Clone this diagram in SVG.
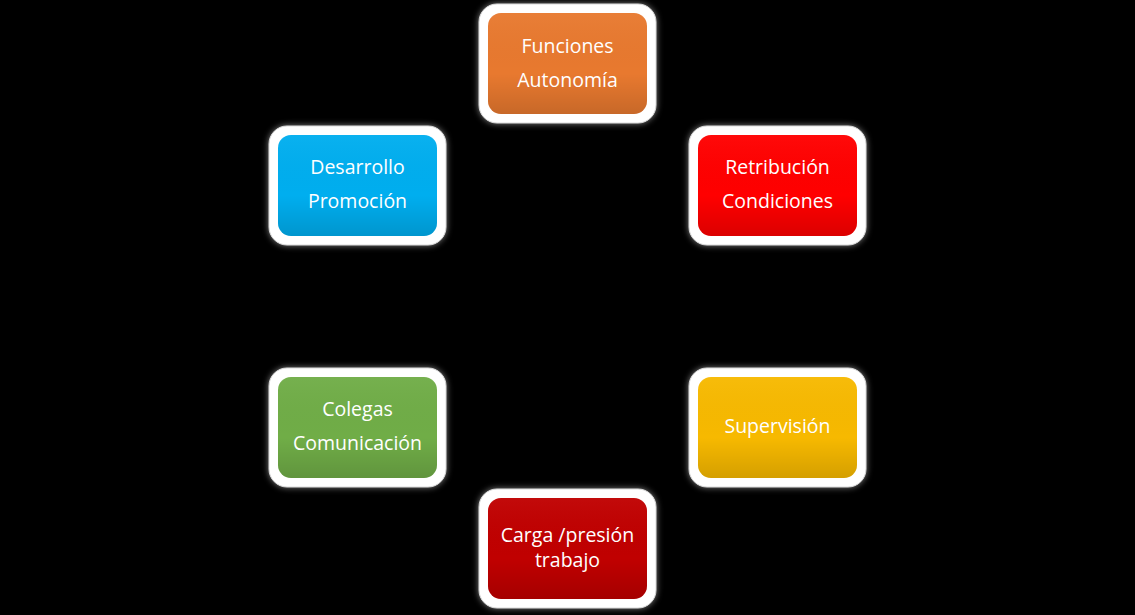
<svg xmlns="http://www.w3.org/2000/svg" width="1135" height="615" viewBox="0 0 1135 615">
<style>
.frame{fill:#ffffff;stroke:#d9d9d9;stroke-width:1;filter:url(#glow)}
.t{font-family:"Open Sans","Liberation Sans",sans-serif;font-size:19.5px;fill:#ffffff;text-anchor:middle}
</style>
<defs>
<filter id="glow" x="-20%" y="-20%" width="140%" height="140%">
<feGaussianBlur in="SourceAlpha" stdDeviation="3" result="b"/>
<feFlood flood-color="#ffffff" flood-opacity="0.5"/>
<feComposite in2="b" operator="in" result="g"/>
<feMerge><feMergeNode in="g"/><feMergeNode in="SourceGraphic"/></feMerge>
</filter>
<linearGradient id="shade" x1="0" y1="0" x2="0" y2="1">
<stop offset="0" stop-color="#fff" stop-opacity="0.04"/>
<stop offset="0.6" stop-color="#000" stop-opacity="0"/>
<stop offset="1" stop-color="#000" stop-opacity="0.14"/>
</linearGradient>
</defs>
<rect width="1135" height="615" fill="#000000"/>
<g id="connectors"></g>
<g id="n-funciones">
<rect class="frame" x="479" y="4" width="177" height="119" rx="18"/>
<rect x="488" y="13" width="159" height="101" rx="13" fill="#E8792F"/>
<rect x="488" y="13" width="159" height="101" rx="13" fill="url(#shade)"/>
<text class="t" x="567.5" y="53">Funciones</text>
<text class="t" x="567.5" y="87">Autonomía</text>
</g>
<g id="n-desarrollo">
<rect class="frame" x="269" y="126" width="177" height="119" rx="18"/>
<rect x="278" y="135" width="159" height="101" rx="13" fill="#00AEEF"/>
<rect x="278" y="135" width="159" height="101" rx="13" fill="url(#shade)"/>
<text class="t" x="357.5" y="174">Desarrollo</text>
<text class="t" x="357.5" y="208">Promoción</text>
</g>
<g id="n-retribucion">
<rect class="frame" x="689" y="126" width="177" height="119" rx="18"/>
<rect x="698" y="135" width="159" height="101" rx="13" fill="#FF0000"/>
<rect x="698" y="135" width="159" height="101" rx="13" fill="url(#shade)"/>
<text class="t" x="777.5" y="174">Retribución</text>
<text class="t" x="777.5" y="208">Condiciones</text>
</g>
<g id="n-colegas">
<rect class="frame" x="269" y="368" width="177" height="119" rx="18"/>
<rect x="278" y="377" width="159" height="101" rx="13" fill="#70AD47"/>
<rect x="278" y="377" width="159" height="101" rx="13" fill="url(#shade)"/>
<text class="t" x="357.5" y="416">Colegas</text>
<text class="t" x="357.5" y="450">Comunicación</text>
</g>
<g id="n-supervision">
<rect class="frame" x="689" y="368" width="177" height="119" rx="18"/>
<rect x="698" y="377" width="159" height="101" rx="13" fill="#F7B900"/>
<rect x="698" y="377" width="159" height="101" rx="13" fill="url(#shade)"/>
<text class="t" x="777.5" y="433">Supervisión</text>
</g>
<g id="n-carga">
<rect class="frame" x="479" y="489" width="177" height="119" rx="18"/>
<rect x="488" y="498" width="159" height="101" rx="13" fill="#C00000"/>
<rect x="488" y="498" width="159" height="101" rx="13" fill="url(#shade)"/>
<text class="t" x="567.5" y="542">Carga /presión</text>
<text class="t" x="567.5" y="567">trabajo</text>
</g>
</svg>
